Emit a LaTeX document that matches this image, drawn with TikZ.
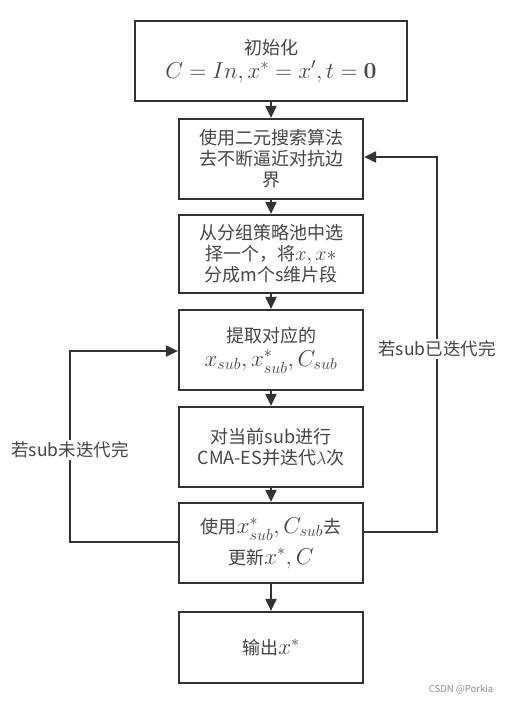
\documentclass[tikz,border=0pt]{standalone}
\usepackage{fix-cm}
\usepackage{amsmath}
\usepackage[no-math]{fontspec}
\setmainfont{Noto Sans CJK SC}
\usetikzlibrary{arrows.meta}
\definecolor{linec}{HTML}{333333}
\definecolor{textc}{HTML}{454545}
\newcommand{\bm}[1]{{\fontsize{23}{25}\selectfont$#1$}}
\begin{document}
\begin{tikzpicture}[x=1pt,y=-1pt,
  box/.style={draw=linec,line width=2.2pt,fill=white,minimum width=184pt,
    minimum height=80pt,align=center,text=textc,inner sep=2pt,
    font=\fontsize{18}{21}\selectfont},
  arr/.style={draw=linec,line width=2pt,-{Triangle[length=12pt,width=11pt]}},
  lbl/.style={fill=white,text=textc,inner sep=2pt,font=\fontsize{17.5}{21}\selectfont}]
\useasboundingbox (0,0) rectangle (514,704);
\node[box,minimum width=272pt] (b1) at (271,61) {初始化\\[3pt]\bm{C=In,x^{*}=x',t=\mathbf{0}}};
\node[box] (b2) at (271,159) {使用二元搜索算法\\去不断逼近对抗边\\界};
\node[box,minimum height=78pt] (b3) at (271,254) {从分组策略池中选\\择一个，将{\fontsize{20}{21}\selectfont$x,x*$}\\分成m个s维片段};
\node[box] (b4) at (271,350) {提取对应的\\[3pt]\bm{x_{sub},x^{*}_{sub},C_{sub}}};
\node[box] (b5) at (271,447) {对当前sub进行\\CMA-ES并迭代$\lambda$次};
\node[box] (b6) at (271,543) {使用\bm{x^{*}_{sub},C_{sub}}去\\[7pt]更新\bm{x^{*},C}};
\node[box,minimum height=71pt] (b7) at (271,647.5) {输出\bm{x^{*}}};
\draw[arr] (b1) -- (b2);
\draw[arr] (b2) -- (b3);
\draw[arr] (b3) -- (b4);
\draw[arr] (b4) -- (b5);
\draw[arr] (b5) -- (b6);
\draw[arr] (b6) -- (b7);
\coordinate (l1) at (70,542);
\coordinate (l2) at (70,351);
\coordinate (r1) at (437,532);
\coordinate (r2) at (437,157);
\draw[arr] (b6.west |- l1) -- (l1) -- (l2) -- (b4.west |- l2);
\draw[arr] (b6.east |- r1) -- (r1) -- (r2) -- (b2.east |- r2);
\node[lbl] (lt) at (70,450) {若sub未迭代完};
\node[lbl] (rt) at (437,349) {若sub已迭代完};
\node[text=black!45,font=\fontsize{9.5}{11}\selectfont] (wm) at (461,690) {CSDN @Porkia};
\end{tikzpicture}
\end{document}
